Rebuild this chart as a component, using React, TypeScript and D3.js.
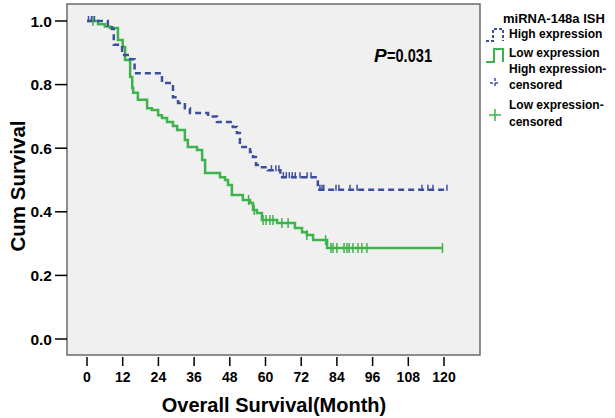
import React from "react";
import * as d3 from "d3";

// Kaplan-Meier steps (month of drop, survival after drop)
const highTimes = [7, 8.4, 9, 11.8, 14.5, 16, 25.2, 28.9, 30.6, 32.9, 34.6, 40.7, 43.7, 49, 50.4, 51.4, 54.8, 55.8, 56.8, 58.2, 60.8, 65, 77.6];
const highSurv = [0.985, 0.975, 0.925, 0.893, 0.88, 0.836, 0.805, 0.76, 0.742, 0.726, 0.711, 0.7, 0.682, 0.667, 0.648, 0.604, 0.588, 0.572, 0.547, 0.54, 0.531, 0.509, 0.469];
const highEnd = 121;
const highCensor = [0.5, 1.5, 2.5, 62, 63.5, 64.5, 66, 67, 68, 69, 70, 71.6, 74, 75.3, 78.3, 79, 79.6, 83.7, 84.7, 88.4, 90.8, 112.6, 114.6, 116.3, 121];

const lowTimes = [3.7, 6, 7.7, 10.4, 12, 12.8, 14.5, 15.2, 15.5, 17.1, 20.2, 21.8, 23.9, 25.2, 26.9, 28.9, 30.3, 32.9, 33.9, 37, 38.7, 39.7, 44.7, 46.4, 47.4, 48.7, 52.4, 54.8, 55.8, 57.1, 58.8, 63.9, 69.9, 72.3, 73.9, 76, 80.7];
const lowSurv = [0.99, 0.983, 0.978, 0.94, 0.918, 0.877, 0.824, 0.79, 0.774, 0.752, 0.726, 0.72, 0.704, 0.695, 0.682, 0.67, 0.657, 0.626, 0.604, 0.594, 0.563, 0.522, 0.509, 0.5, 0.484, 0.453, 0.437, 0.428, 0.406, 0.396, 0.374, 0.365, 0.349, 0.336, 0.327, 0.311, 0.286];
const lowEnd = 119.5;
const lowCensor = [2, 54.3, 56.2, 59.2, 60.2, 61.5, 62.5, 65.5, 67.6, 73.9, 80.2, 82, 82.7, 84, 86.4, 87.4, 88.1, 89.4, 91.1, 92.4, 94.1, 119.5];

const xTicks = [0, 12, 24, 36, 48, 60, 72, 84, 96, 108, 120];
const yTicks = [0, 0.2, 0.4, 0.6, 0.8, 1.0];

const BLUE = "#3d4f9c";
const GREEN = "#3cb44b";
const FONT = "'Liberation Sans', Arial, sans-serif";

const box = { left: 67, top: 4, right: 480, bottom: 355 };
const x = d3.scaleLinear().domain([0, 120]).range([87, 444]);
const y = d3.scaleLinear().domain([0, 1]).range([339, 21]);

function stepPoints(times: number[], surv: number[], end: number): [number, number][] {
  const pts: [number, number][] = [[0, 1]];
  times.forEach((t, i) => pts.push([t, surv[i]]));
  pts.push([end, surv[surv.length - 1]]);
  return pts;
}

function survAt(times: number[], surv: number[], t: number) {
  let s = 1;
  times.forEach((tt, i) => {
    if (tt <= t) s = surv[i];
  });
  return s;
}

const line = d3
  .line<[number, number]>()
  .x(d => x(d[0]))
  .y(d => y(d[1]))
  .curve(d3.curveStepAfter);

export default function App() {
  const highPath = line(stepPoints(highTimes, highSurv, highEnd)) || "";
  const lowPath = line(stepPoints(lowTimes, lowSurv, lowEnd)) || "";

  return (
    <svg
      width={615}
      height={418}
      style={{ position: "absolute", left: 0, top: 0, background: "#fff" }}
      fontFamily={FONT}
      fontWeight="bold"
    >
      <rect
        x={box.left}
        y={box.top}
        width={box.right - box.left}
        height={box.bottom - box.top}
        fill="#f0f0f0"
        stroke="#6b6b6b"
        strokeWidth={1.5}
      />

      {/* y axis */}
      {yTicks.map(t => (
        <g key={t}>
          <line x1={55} x2={box.left} y1={y(t)} y2={y(t)} stroke="#000" strokeWidth={1.5} />
          <text x={52} y={y(t)} dy="0.36em" textAnchor="end" fontSize={15.5}>
            {t.toFixed(1)}
          </text>
        </g>
      ))}
      <text
        transform="translate(25,186) rotate(-90)"
        textAnchor="middle"
        fontSize={20.5}
      >
        Cum Survival
      </text>

      {/* x axis */}
      {xTicks.map(t => (
        <g key={t}>
          <line x1={x(t)} x2={x(t)} y1={357} y2={366} stroke="#000" strokeWidth={1.5} />
          <text x={x(t)} y={382} textAnchor="middle" fontSize={14}>
            {t}
          </text>
        </g>
      ))}
      <text x={274} y={412} textAnchor="middle" fontSize={20}>
        Overall Survival(Month)
      </text>

      {/* curves */}
      <path d={lowPath} fill="none" stroke={GREEN} strokeWidth={2.5} />
      <path d={highPath} fill="none" stroke={BLUE} strokeWidth={2.5} strokeDasharray="6,4" />

      {lowCensor.map((t, i) => {
        const cy = y(survAt(lowTimes, lowSurv, t));
        return <line key={"lc" + i} x1={x(t)} x2={x(t)} y1={cy - 5} y2={cy + 5} stroke={GREEN} strokeWidth={1.5} />;
      })}
      {highCensor.map((t, i) => {
        const cy = y(survAt(highTimes, highSurv, t));
        return <line key={"hc" + i} x1={x(t)} x2={x(t)} y1={cy - 5} y2={cy + 1} stroke={BLUE} strokeWidth={1.5} />;
      })}

      <text x={374} y={62} fontSize={19} fontStyle="italic">P</text>
      <text x={387} y={62} fontSize={19} textLength={45} lengthAdjust="spacingAndGlyphs">=0.031</text>

      {/* legend */}
      <g fontSize={12}>
        <text x={503} y={23} fontSize={13}>miRNA-148a ISH</text>
        <path d="M486,41H493V29H503V41" fill="none" stroke={BLUE} strokeWidth={2} strokeDasharray="3,2" />
        <text x={509} y={38}>High expression</text>
        <path d="M486,62H494V49H503V62" fill="none" stroke={GREEN} strokeWidth={2} />
        <text x={509} y={57}>Low expression</text>
        <g stroke={BLUE} strokeWidth={1.5} strokeDasharray="3,2">
          <line x1={490} x2={500} y1={83} y2={83} />
          <line x1={495} x2={495} y1={78} y2={88} />
        </g>
        <text x={509} y={73}>High expression-</text>
        <text x={509} y={89}>censored</text>
        <g stroke={GREEN} strokeWidth={1.5}>
          <line x1={489} x2={501} y1={115} y2={115} />
          <line x1={495} x2={495} y1={109} y2={121} />
        </g>
        <text x={509} y={109}>Low expression-</text>
        <text x={509} y={126}>censored</text>
      </g>
    </svg>
  );
}
